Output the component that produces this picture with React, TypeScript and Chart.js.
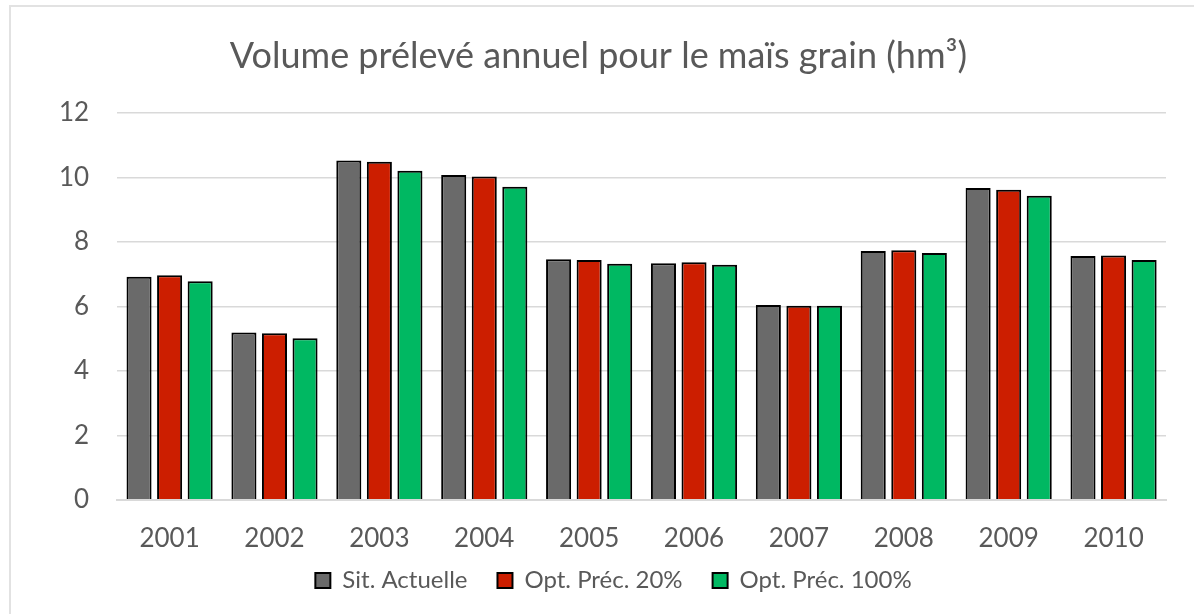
import React, { useEffect, useRef } from "react";
import { Chart, registerables } from "chart.js";

Chart.register(...registerables);

const years = ["2001", "2002", "2003", "2004", "2005", "2006", "2007", "2008", "2009", "2010"];
const sitActuelle = [6.92, 5.19, 10.53, 10.08, 7.46, 7.34, 6.04, 7.72, 9.67, 7.56];
const optPrec20 = [6.97, 5.17, 10.49, 10.03, 7.44, 7.37, 6.02, 7.74, 9.62, 7.58];
const optPrec100 = [6.78, 5.01, 10.21, 9.71, 7.32, 7.29, 6.02, 7.66, 9.43, 7.44];
const seriesNames = ["Sit. Actuelle", "Opt. Préc. 20%", "Opt. Préc. 100%"];
const seriesColors = ["#6A6A6A", "#CC1E00", "#00B862"];
const titleText = "Volume prélevé annuel pour le maïs grain (hm³)";

const FONT = "Lato, 'Open Sans', sans-serif";
const TEXT = "#595959";

const layoutTweaks = {
  id: "layoutTweaks",
  afterLayout(chart: any) {
    const x = chart.scales.x;
    if (x) x.bottom = chart.height;
    const lg = chart.legend;
    if (lg) {
      lg.left += 15;
      lg.right += 15;
    }
  },
};

export default function App() {
  const ref = useRef<HTMLCanvasElement | null>(null);
  useEffect(() => {
    if (!ref.current) return;
    const values = [sitActuelle, optPrec20, optPrec100];
    const chart = new Chart(ref.current, {
      type: "bar",
      data: {
        labels: years,
        datasets: seriesNames.map((name, i) => ({
          label: name,
          data: values[i],
          backgroundColor: seriesColors[i],
          borderColor: "#000000",
          borderWidth: 2,
          categoryPercentage: 0.874,
          barPercentage: 0.82,
        })),
      },
      plugins: [layoutTweaks],
      options: {
        animation: false,
        responsive: false,
        maintainAspectRatio: false,
        layout: { padding: { left: 31, right: 28, top: 0, bottom: 11.6 } },
        plugins: {
          title: {
            display: true,
            text: titleText,
            color: TEXT,
            font: { family: FONT, size: 36, weight: "normal" },
            padding: { top: 34.4, bottom: 35.4 },
          },
          legend: {
            position: "bottom",
            labels: {
              color: TEXT,
              font: { family: FONT, size: 24 },
              boxWidth: 15,
              boxHeight: 15,
              padding: 30,
            },
          },
          tooltip: { enabled: false },
        },
        scales: {
          x: {
            grid: { display: false, drawTicks: false },
            border: { color: "#D9D9D9", width: 2 },
            ticks: { color: TEXT, font: { family: FONT, size: 26 }, padding: 23 },
            afterFit: (scale: any) => {
              scale.height = 38.6;
            },
          },
          y: {
            min: 0,
            max: 12,
            grid: { color: "#D9D9D9", lineWidth: 1.5, drawTicks: false },
            border: { display: false },
            ticks: { stepSize: 2, color: TEXT, font: { family: FONT, size: 26 }, padding: 28 },
          },
        },
      },
    });
    return () => chart.destroy();
  }, []);
  return (
    <div style={{ position: "fixed", left: 0, top: 0, width: 1194, height: 614, overflow: "hidden", background: "#fff" }}>
      <canvas ref={ref} width={1194} height={614} style={{ position: "absolute", left: 0, top: 0 }} />
      <div style={{ position: "absolute", left: 9, top: 5, width: 1300, height: 700, border: "2px solid #E2E2E2", pointerEvents: "none" }} />
    </div>
  );
}
